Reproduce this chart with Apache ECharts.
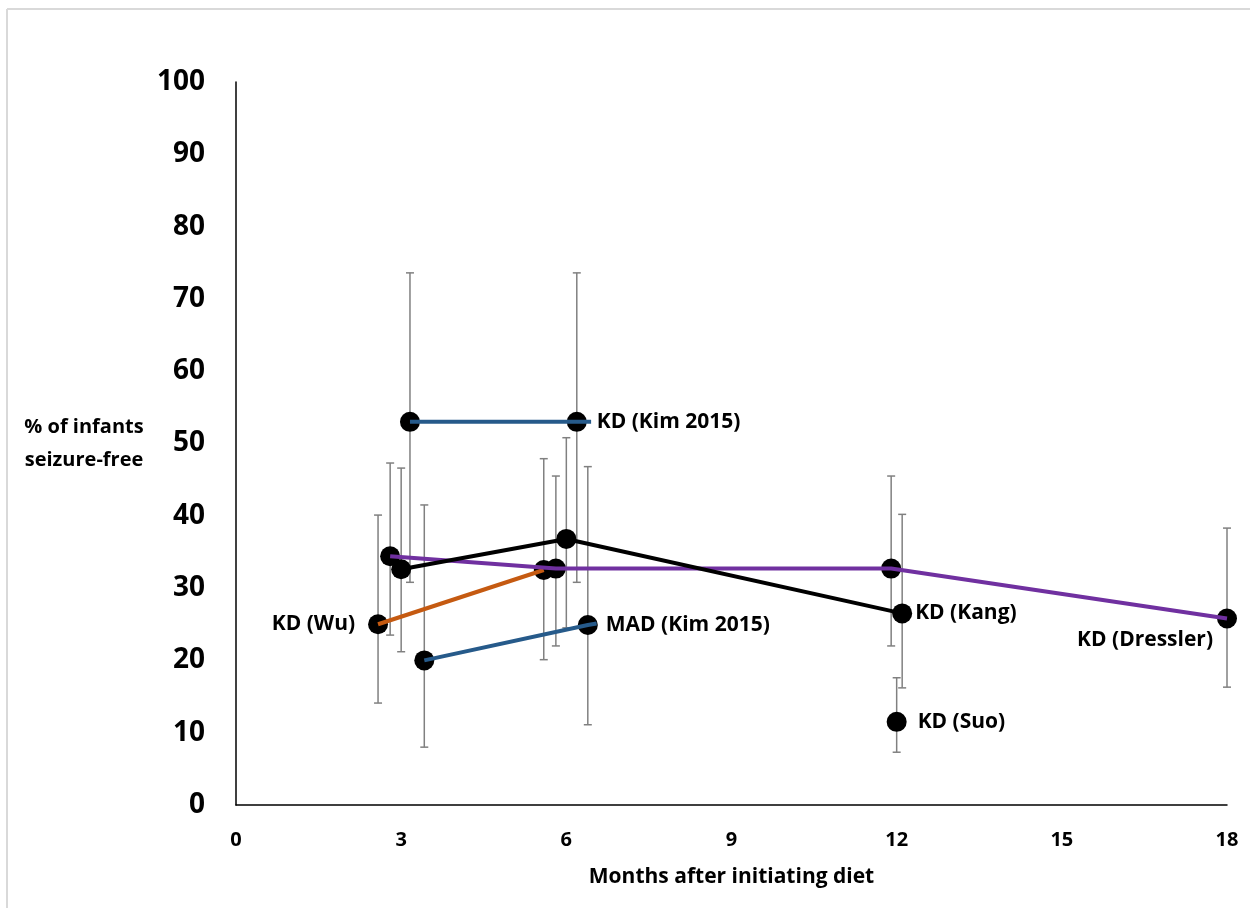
<!DOCTYPE html>
<html>
<head>
<meta charset="utf-8">
<script src="https://cdn.jsdelivr.net/npm/echarts@6/dist/echarts.min.js"></script>
<style>
html,body{margin:0;padding:0;background:#fff;}
#chart{width:1250px;height:908px;}
</style>
</head>
<body>
<div id="chart"></div>
<script>
// ---- data ----
const xTicks = [0, 3, 6, 9, 12, 15, 18];
const yTicks = [0, 10, 20, 30, 40, 50, 60, 70, 80, 90, 100];

// connecting lines per study: [months, % seizure-free]
const lineKimKD   = [[3.16, 53], [6.45, 53]];
const lineKimMAD  = [[3.42, 20], [6.39, 24.9], [6.55, 25.1]];
const lineWu      = [[2.58, 25], [5.59, 32.5]];
const lineDressler= [[2.8, 34.4], [5.81, 32.7], [11.9, 32.7], [18, 25.8]];
const lineKang    = [[3.0, 32.6], [6.0, 36.8], [12.1, 26.5]];

// points: [months, value, lowCI, highCI]
const ptsKimKD    = [[3.16, 53, 30.8, 73.6], [6.19, 53, 30.8, 73.6]];
const ptsKimMAD   = [[3.42, 20, 8.0, 41.5], [6.39, 24.9, 11.1, 46.8]];
const ptsWu       = [[2.58, 25, 14.1, 40.1], [5.59, 32.5, 20.1, 47.9]];
const ptsDressler = [[2.8, 34.4, 23.5, 47.3], [5.81, 32.7, 22.0, 45.5], [11.9, 32.7, 22.0, 45.5], [18, 25.8, 16.3, 38.3]];
const ptsKang     = [[3.0, 32.6, 21.2, 46.6], [6.0, 36.8, 24.5, 50.8], [12.1, 26.5, 16.2, 40.2]];
const ptsSuo      = [[12.0, 11.5, 7.3, 17.6]];

// labels: [text, months, value]
const labelNames = ['KD (Kim 2015)', 'MAD (Kim 2015)', 'KD (Wu)', 'KD (Kang)', 'KD (Dressler)', 'KD (Suo)'];
const labelPts   = [[6.19, 53], [6.39, 24.9], [2.58, 25], [12.1, 26.5], [18, 25.8], [12.0, 11.5]];

const xTitle = 'Months after initiating diet';
const yTitle = '% of infants\nseizure-free';

// ---- build ----
const allPts = [].concat(ptsKimKD, ptsKimMAD, ptsWu, ptsDressler, ptsKang, ptsSuo);
const FONT = '"Open Sans", "Liberation Sans", sans-serif';

const labelCfg = [
  {position: 'right', distance: 10},
  {position: 'right', distance: 8},
  {position: 'left', distance: 13},
  {position: 'right', distance: 3},
  {position: 'left', distance: 4, offset: [0, 22]},
  {position: 'right', distance: 11}
];

function lineSeries(data, color) {
  return {
    type: 'line', data: data, symbol: 'none', z: 5,
    lineStyle: {color: color, width: 4},
    silent: true, animation: false
  };
}

const option = {
  animation: false,
  backgroundColor: '#fff',
  grid: {left: 236, right: 23, top: 82, bottom: 103},
  xAxis: {
    type: 'value', min: 0, max: 18, interval: 3,
    axisLine: {show: true, lineStyle: {color: '#000', width: 1.5}},
    axisTick: {show: false},
    splitLine: {show: false},
    axisLabel: {fontFamily: FONT, fontWeight: 'bold', fontSize: 20, color: '#000', margin: 25,
      formatter: v => xTicks.includes(v) ? String(v) : ''},
    name: xTitle, nameLocation: 'middle', nameGap: 62,
    nameTextStyle: {fontFamily: FONT, fontWeight: 'bold', fontSize: 21, color: '#000'}
  },
  yAxis: {
    type: 'value', min: 0, max: 100, interval: 10,
    axisLine: {show: true, lineStyle: {color: '#000', width: 1.5}},
    axisTick: {show: false},
    splitLine: {show: false},
    axisLabel: {fontFamily: FONT, fontWeight: 'bold', fontSize: 28, color: '#000', margin: 31,
      formatter: v => yTicks.includes(v) ? String(v) : ''},
    name: yTitle, nameLocation: 'middle', nameGap: 152, nameRotate: 0,
    nameTextStyle: {fontFamily: FONT, fontWeight: 'bold', fontSize: 20, color: '#000', lineHeight: 33, align: 'center'}
  },
  graphic: [
    {type: 'line', shape: {x1: 7, y1: 9, x2: 1250, y2: 9}, style: {stroke: '#d9d9d9', lineWidth: 2}},
    {type: 'line', shape: {x1: 7, y1: 9, x2: 7, y2: 908}, style: {stroke: '#d9d9d9', lineWidth: 2}}
  ],
  series: [
    {
      type: 'custom', z: 1, silent: true,
      data: allPts.map(p => [p[0], p[2], p[3]]),
      encode: {x: 0, y: [1, 2]},
      renderItem: function (params, api) {
        const lo = api.coord([api.value(0), api.value(1)]);
        const hi = api.coord([api.value(0), api.value(2)]);
        const w = 4;
        const st = {stroke: '#808080', lineWidth: 1.5};
        return {
          type: 'group',
          children: [
            {type: 'line', shape: {x1: lo[0], y1: lo[1], x2: hi[0], y2: hi[1]}, style: st},
            {type: 'line', shape: {x1: lo[0] - w, y1: lo[1], x2: lo[0] + w, y2: lo[1]}, style: st},
            {type: 'line', shape: {x1: hi[0] - w, y1: hi[1], x2: hi[0] + w, y2: hi[1]}, style: st}
          ]
        };
      }
    },
    {
      type: 'scatter', z: 3, symbol: 'circle', symbolSize: 20,
      itemStyle: {color: '#000', opacity: 1},
      data: allPts.map(p => [p[0], p[1]])
    },
    lineSeries(lineKimKD, '#265a8a'),
    lineSeries(lineKimMAD, '#265a8a'),
    lineSeries(lineWu, '#c55a11'),
    lineSeries(lineDressler, '#7030a0'),
    lineSeries(lineKang, '#000000'),
    {
      type: 'scatter', z: 6, symbolSize: 20, itemStyle: {color: 'rgba(0,0,0,0)', opacity: 1},
      silent: true,
      data: labelPts.map((p, i) => ({
        value: p,
        label: Object.assign({
          show: true, formatter: labelNames[i],
          fontFamily: FONT, fontWeight: 'bold', fontSize: 21, color: '#000'
        }, labelCfg[i])
      }))
    }
  ]
};

const chart = echarts.init(document.getElementById('chart'), null, {renderer: 'canvas'});
chart.setOption(option);
</script>
</body>
</html>
